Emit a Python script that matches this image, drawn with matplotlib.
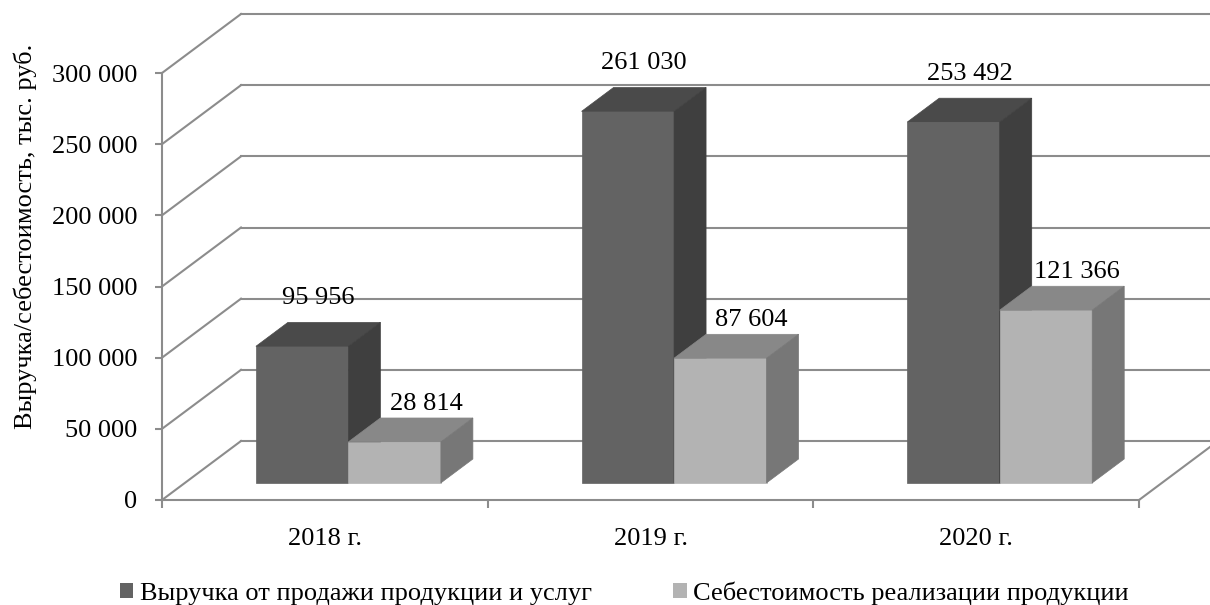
import numpy as np
import matplotlib.pyplot as plt
from matplotlib.patches import Polygon, Patch

# data
years = ['2018 г.', '2019 г.', '2020 г.']
revenue = [95956, 261030, 253492]
cost = [28814, 87604, 121366]
series_names = ['Выручка от продажи продукции и услуг',
                'Себестоимость реализации продукции']
y_ticks = np.arange(0, 300001, 50000)


def fmt(v):
    return f'{v:,}'.replace(',', ' ')


plt.rcParams['font.family'] = ['Liberation Serif', 'DejaVu Serif']
plt.rcParams['font.size'] = 19

# oblique pseudo-3d: depth runs right and up
DX = 0.2426          # category units for full depth
DY = 41450           # value units for full depth
d0, d1 = 0.29, 0.695 # depth span of the bars
gap = 0.218
width = 0.284
grid_col = '#8c8c8c'

# (front, top, side)
colors = [('#636363', '#4a4a4a', '#3f3f3f'),
          ('#b3b3b3', '#888888', '#777777')]

fig = plt.figure(figsize=(12.1, 6.05), dpi=100)
ax = fig.add_axes([162 / 1210, 105 / 605, 977 / 1210, 427 / 605])
ax.set_xlim(0, 3)
ax.set_ylim(0, 300000)

# walls: side diagonals + back horizontals
for v in y_ticks:
    ax.plot([0, DX], [v, v + DY], color=grid_col, lw=1.5, clip_on=False, zorder=1)
    ax.plot([DX, 3 + DX + 0.1], [v + DY, v + DY], color=grid_col, lw=1.5,
            clip_on=False, zorder=1)
# floor right edge
ax.plot([3, 3 + DX], [0, DY], color=grid_col, lw=1.5, clip_on=False, zorder=1)


def draw_bar(x0, v, cols, z):
    front, top, side = cols
    xf = x0 + d0 * DX
    yb = d0 * DY
    ax.bar(xf, v, width=width, bottom=yb, align='edge', color=front,
           edgecolor=front, linewidth=0.5, zorder=z)
    x1 = xf + width
    ddx = (d1 - d0) * DX
    ddy = (d1 - d0) * DY
    top_poly = [(xf, yb + v), (x1, yb + v), (x1 + ddx, yb + v + ddy), (xf + ddx, yb + v + ddy)]
    side_poly = [(x1, yb), (x1 + ddx, yb + ddy), (x1 + ddx, yb + v + ddy), (x1, yb + v)]
    ax.add_patch(Polygon(top_poly, closed=True, facecolor=top, edgecolor=top,
                         lw=0.5, zorder=z, clip_on=False))
    ax.add_patch(Polygon(side_poly, closed=True, facecolor=side, edgecolor=side,
                         lw=0.5, zorder=z, clip_on=False))
    # anchor for the label: centre of the top face
    return xf + width / 2 + ddx / 2, yb + v + ddy / 2


z = 3
for i in range(len(years)):
    for k, (vals, off) in enumerate([(revenue, (0, 26)), (cost, (11, 19))]):
        x0 = i + gap + k * width
        xc, yc = draw_bar(x0, vals[i], colors[k], z)
        ax.annotate(fmt(vals[i]), xy=(xc, yc), xytext=off, textcoords='offset points',
                    ha='center', va='center', zorder=10, annotation_clip=False)
        z += 1

# axes styling
for s in ['top', 'right']:
    ax.spines[s].set_visible(False)
for s in ['left', 'bottom']:
    ax.spines[s].set_color(grid_col)
    ax.spines[s].set_linewidth(1.5)

ax.set_yticks(y_ticks)
ax.set_yticklabels([fmt(v) for v in y_ticks])
ax.tick_params(axis='y', length=5, width=1.5, color=grid_col, pad=13)

ax.set_xticks([0, 1, 2, 3])
ax.set_xticklabels([])
ax.set_xticks([0.5, 1.5, 2.5], minor=True)
ax.set_xticklabels(years, minor=True)
ax.tick_params(axis='x', which='major', length=6, width=1.5, color=grid_col)
ax.tick_params(axis='x', which='minor', length=0, pad=20)

ax.set_ylabel('Выручка/себестоимость, тыс. руб.')
ax.yaxis.set_label_coords(-0.128, 0.618)

handles = [Patch(facecolor=colors[0][0]), Patch(facecolor=colors[1][0])]
fig.legend(handles, series_names, loc='center', bbox_to_anchor=(0.516, 0.02),
           ncol=2, frameon=False, handlelength=0.5, handleheight=0.5,
           handletextpad=0.25, columnspacing=3.1)

fig.savefig('out.png', dpi=100)
